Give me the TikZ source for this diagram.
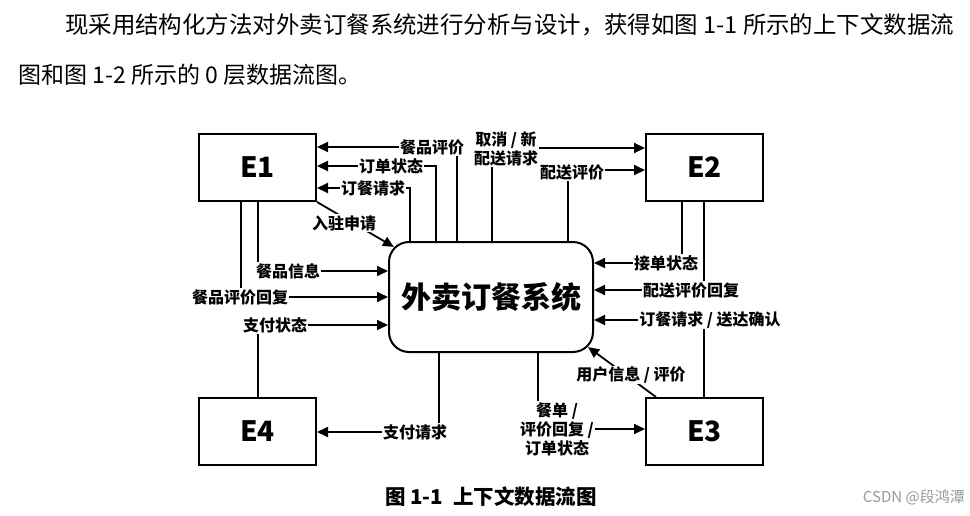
\documentclass[tikz,border=0pt]{standalone}
\usepackage{fontspec}
\setmainfont{Noto Sans CJK SC}
\usetikzlibrary{arrows.meta,calc}
\begin{document}
\begin{tikzpicture}[x=1pt,y=-1pt,
  box/.style={draw,line width=2pt,minimum width=117pt,minimum height=67pt,inner sep=0pt,font=\fontsize{28}{30}\selectfont\bfseries},
  proc/.style={draw,line width=2pt,rounded corners=20pt,minimum width=204pt,minimum height=110pt,inner sep=0pt,font=\fontsize{30}{32}\selectfont\bfseries},
  flow/.style={line width=1.8pt,-{Triangle[length=11pt,width=10pt]}},
  lab/.style={fill=white,inner sep=1pt,font=\fontsize{16}{19}\selectfont\bfseries,align=center},
  para/.style={anchor=west,inner sep=0pt,font=\fontsize{23}{23}\selectfont}]
\fill[white] (0,0) rectangle (970,515);
\useasboundingbox (0,0) rectangle (970,515);

% paragraph
\node[para,font=\fontsize{23.45}{23}\selectfont] (p1) at (65,25) {现采用结构化方法对外卖订餐系统进行分析与设计，获得如图 1-1 所示的上下文数据流};
\node[para] (p2) at (18,75) {图和图 1-2 所示的 0 层数据流图。};

% entities and process
\node[box] (e1) at (257.5,167.5) {E1};
\node[box] (e2) at (704.5,167.5) {E2};
\node[box] (e3) at (704.5,431.5) {E3};
\node[box] (e4) at (257.5,431.5) {E4};
\node[proc] (c) at (491,297) {外卖订餐系统};

% corner coordinates
\coordinate (k1) at (457,147);
\coordinate (k2) at (436,166);
\coordinate (k3) at (410,188);
\coordinate (k4) at (492,148);
\coordinate (k5) at (568,170);
\coordinate (k6) at (682,263);
\coordinate (k7) at (704,290);
\coordinate (k8) at (704,320);
\coordinate (k9) at (538,429);
\coordinate (k10) at (439,432);
\coordinate (k11) at (258,271);
\coordinate (k12) at (241,297);
\coordinate (k13) at (258,325);

% flows
\draw[flow] (c.north -| k1) -- (k1) -- (e1.east |- k1);
\draw[flow] (c.north -| k2) -- (k2) -- (e1.east |- k2);
\draw[flow] (c.north -| k3) -- (k3) -- (e1.east |- k3);
\draw[flow] (e1.south east) -- ($(c.north west)+(5.9,5.9)$);
\draw[flow] (c.north -| k4) -- (k4) -- (e2.west |- k4);
\draw[flow] (c.north -| k5) -- (k5) -- (e2.west |- k5);
\draw[flow] (e2.south -| k6) -- (k6) -- (c.east |- k6);
\draw[flow] (e2.south -| k7) -- (k7) -- (c.east |- k7);
\draw[flow] (e3.north -| k8) -- (k8) -- (c.east |- k8);
\draw[flow] ($(e3.north west)+(11,0)$) -- ($(c.south east)+(-5.9,-5.9)$);
\draw[flow] (c.south -| k9) -- (k9) -- (e3.west |- k9);
\draw[flow] (c.south -| k10) -- (k10) -- (e4.east |- k10);
\draw[flow] (e1.south -| k11) -- (k11) -- (c.west |- k11);
\draw[flow] (e1.south -| k12) -- (k12) -- (c.west |- k12);
\draw[flow] (e4.north -| k13) -- (k13) -- (c.west |- k13);

% labels
\node[lab] (l1) at (432,147) {餐品评价};
\node[lab] (l2) at (391,166) {订单状态};
\node[lab] (l3) at (373,188) {订餐请求};
\node[lab] (l4) at (344,223) {入驻申请};
\node[lab] (l5) at (506,149) {取消 / 新\\配送请求};
\node[lab] (l6) at (572,172) {配送评价};
\node[lab] (l7) at (666,263) {接单状态};
\node[lab] (l8) at (691,290) {配送评价回复};
\node[lab] (l9) at (710,320) {订餐请求 / 送达确认};
\node[lab] (l10) at (631,375) {用户信息 / 评价};
\node[lab] (l11) at (557,429) {餐单 /\\评价回复 /\\订单状态};
\node[lab] (l12) at (415,432) {支付请求};
\node[lab] (l13) at (288,271) {餐品信息};
\node[lab] (l14) at (240,297) {餐品评价回复};
\node[lab] (l15) at (275,325) {支付状态};

% caption and watermark
\node[anchor=west,inner sep=0pt,font=\fontsize{20.5}{20}\selectfont\bfseries] (cap) at (385,497) {图 1-1\hspace{10pt}上下文数据流图};
\node[anchor=east,inner sep=0pt,text=black!40,font=\fontsize{15}{15}\selectfont] (wm) at (965,497) {CSDN @段鸿潭};
\end{tikzpicture}
\end{document}
